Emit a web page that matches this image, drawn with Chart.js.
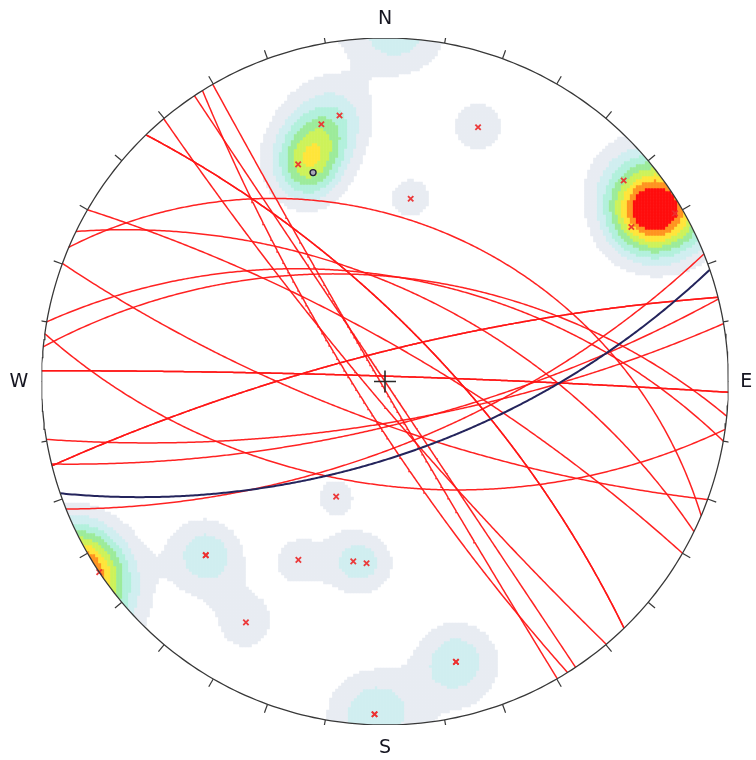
<!DOCTYPE html>
<html>
<head>
<meta charset="utf-8">
<title>Stereonet</title>
<script src="https://cdn.jsdelivr.net/npm/chart.js@4.4.1/dist/chart.umd.min.js"></script>
<style>
  html, body { margin: 0; padding: 0; background: #ffffff; }
  #wrap { width: 756px; height: 760px; }
</style>
</head>
<body>
<div id="wrap"><canvas id="net" width="756" height="760"></canvas></div>
<script>
// ---- Measured planes (dip direction / dip, degrees) ----
const planeDipDir = [166.1, 170.3, 158.2, 200.1, 188.0, 229.9, 237.9, 239.9, 56.3, 23.0, 45.9, 45.9, 25.9, 10.0, 5.8, 30.0, 345.8, 345.8, 1.8, 1.8];
const planeDip    = [ 75.3,  76.3,  68.5,  76.5,  56.5,  84.5,  80.5,  88.6, 90.0, 40.0, 72.0, 72.0, 60.0, 56.0, 56.0, 78.0,  80.2,  80.2, 88.2, 88.2];

// ---- Mean plane ----
const meanDipDir = 161.0;
const meanDip = 65.5;

// ---- Further pole measurements counted in the contours only (trend, plunge, weight) ----
const extraTrend  = [57.8, 343.0, 339.3];
const extraPlunge = [4.4, 20.2, 25.8];
const extraWeight = [4.5, 2.3, 1.4];

// ---- Contour levels and fills ----
const contourLevels = [0.71, 1.42, 2.13, 2.84, 3.55, 4.26, 4.97, 5.68];
const contourColors = ['#e8ecf2', '#d0eef0', '#b2f0dc', '#9ceb9a', '#cdf25a', '#ffe53a', '#ff9420', '#ff0d0d'];

// ---- Compass labels ----
const compassLabels = ['N', 'E', 'S', 'W'];

const DEG = Math.PI / 180;

function lineVec(trend, plunge) {
  const t = trend * DEG, p = plunge * DEG;
  return [Math.sin(t) * Math.cos(p), Math.cos(t) * Math.cos(p), Math.sin(p)];
}

// lower-hemisphere equal-angle (Wulff) projection
function project(v) {
  let e = v[0], n = v[1], d = v[2];
  if (d < 0) { e = -e; n = -n; d = -d; }
  return { x: e / (1 + d), y: n / (1 + d) };
}

function greatCircle(dd, dip) {
  const a = lineVec(dd - 90, 0), b = lineVec(dd, dip);
  const pts = [];
  for (let i = 0; i <= 360; i++) {
    const t = i * 0.5 * DEG, c = Math.cos(t), s = Math.sin(t);
    pts.push(project([a[0] * c + b[0] * s, a[1] * c + b[1] * s, a[2] * c + b[2] * s]));
  }
  return pts;
}

function poleOf(dd, dip) { return lineVec(dd + 180, 90 - dip); }

// ---- contour grid (Fisher kernel on the sphere, axial) ----
const KAPPA = 105;
const sources = [];
planeDipDir.forEach((dd, i) => sources.push({ v: poleOf(dd, planeDip[i]), w: 1 }));
extraTrend.forEach((t, i) => sources.push({ v: lineVec(t, extraPlunge[i]), w: extraWeight[i] }));

const RPX = 343.5;
const cellPx = 3;
const step = cellPx / RPX;
const levelPts = contourLevels.map(() => []);
const nCells = Math.ceil(1 / step) + 1;
for (let i = -nCells; i <= nCells; i++) {
  for (let j = -nCells; j <= nCells; j++) {
    const X = i * step, Y = j * step;
    const r2 = X * X + Y * Y;
    if (r2 > (1 + step) * (1 + step)) continue;
    const q = 1 + r2;
    const v = [2 * X / q, 2 * Y / q, (1 - r2) / q];
    let dsum = 0;
    for (const s of sources) {
      const c = Math.abs(v[0] * s.v[0] + v[1] * s.v[1] + v[2] * s.v[2]);
      dsum += s.w * Math.exp(KAPPA * (c - 1));
    }
    let lvl = -1;
    for (let k = 0; k < contourLevels.length; k++) if (dsum >= contourLevels[k]) lvl = k;
    if (lvl >= 0) levelPts[lvl].push({ x: X, y: Y });
  }
}

const datasets = [];

levelPts.forEach((pts, k) => {
  datasets.push({
    isContour: true, data: pts, order: 20,
    pointStyle: 'rect', pointRadius: (cellPx + 0.6) / Math.SQRT2, pointBorderWidth: 0,
    pointBackgroundColor: contourColors[k], showLine: false
  });
});

planeDipDir.forEach((dd, i) => {
  datasets.push({
    data: greatCircle(dd, planeDip[i]), order: 12, showLine: true, pointRadius: 0,
    borderColor: 'rgba(255,22,22,0.95)', borderWidth: 1.5, fill: false
  });
});

datasets.push({
  data: greatCircle(meanDipDir, meanDip), order: 11, showLine: true, pointRadius: 0,
  borderColor: '#24245c', borderWidth: 2, fill: false
});

datasets.push({
  data: planeDipDir.map((dd, i) => project(poleOf(dd, planeDip[i]))), order: 9, showLine: false,
  pointStyle: 'crossRot', pointRadius: 3.8, pointBorderWidth: 1.8, pointBorderColor: 'rgba(236,48,48,0.95)'
});

datasets.push({
  data: [project(poleOf(meanDipDir, meanDip))], order: 8, showLine: false,
  pointStyle: 'circle', pointRadius: 3, pointBorderWidth: 1.4,
  pointBorderColor: '#22223a', pointBackgroundColor: '#a8a8b8'
});

// primitive circle
const rim = [];
for (let a = 0; a <= 360; a += 1) rim.push({ x: Math.sin(a * DEG), y: Math.cos(a * DEG) });
datasets.push({ data: rim, order: 6, showLine: true, pointRadius: 0, borderColor: '#383838', borderWidth: 1.3, fill: false });

// 10-degree ticks
for (let a = 0; a < 360; a += 10) {
  const len = (a % 90 === 0 ? 11 : 9) / RPX;
  const s = Math.sin(a * DEG), c = Math.cos(a * DEG);
  datasets.push({
    data: [{ x: s, y: c }, { x: s * (1 + len), y: c * (1 + len) }], order: 6, showLine: true,
    pointRadius: 0, borderColor: '#383838', borderWidth: 1.2, fill: false
  });
}

// centre cross
const arm = 11 / RPX;
datasets.push({ data: [{ x: -arm, y: 0 }, { x: arm, y: 0 }], order: 5, showLine: true, pointRadius: 0, borderColor: '#2a2a2a', borderWidth: 1.6 });
datasets.push({ data: [{ x: 0, y: -arm }, { x: 0, y: arm }], order: 5, showLine: true, pointRadius: 0, borderColor: '#2a2a2a', borderWidth: 1.6 });

const netPlugin = {
  id: 'netPlugin',
  beforeDatasetDraw(chart, args) {
    if (!chart.data.datasets[args.index].isContour) return;
    const ctx = chart.ctx, xs = chart.scales.x, ys = chart.scales.y;
    const cx = xs.getPixelForValue(0), cy = ys.getPixelForValue(0);
    const r = xs.getPixelForValue(1) - cx;
    ctx.save();
    ctx.beginPath();
    ctx.arc(cx, cy, r, 0, 2 * Math.PI);
    ctx.clip();
  },
  afterDatasetDraw(chart, args) {
    if (chart.data.datasets[args.index].isContour) chart.ctx.restore();
  },
  afterDraw(chart) {
    const ctx = chart.ctx, xs = chart.scales.x, ys = chart.scales.y;
    const offsets = [[0, 1.058], [1.052, 0], [0, -1.065], [-1.066, 0]];
    ctx.save();
    ctx.fillStyle = '#151520';
    ctx.font = '19px "DejaVu Sans", sans-serif';
    ctx.textAlign = 'center';
    ctx.textBaseline = 'middle';
    compassLabels.forEach((lab, i) => {
      ctx.fillText(lab, xs.getPixelForValue(offsets[i][0]), ys.getPixelForValue(offsets[i][1]) + 1);
    });
    ctx.restore();
  }
};

new Chart(document.getElementById('net'), {
  type: 'scatter',
  data: { datasets },
  options: {
    responsive: false,
    animation: false,
    devicePixelRatio: 1,
    events: [],
    layout: { padding: { left: 41.5, right: 27.5, top: 38, bottom: 35 } },
    scales: {
      x: { type: 'linear', min: -1, max: 1, display: false },
      y: { type: 'linear', min: -1, max: 1, display: false }
    },
    plugins: { legend: { display: false }, tooltip: { enabled: false } },
    elements: { line: { tension: 0 } }
  },
  plugins: [netPlugin]
});
</script>
</body>
</html>
